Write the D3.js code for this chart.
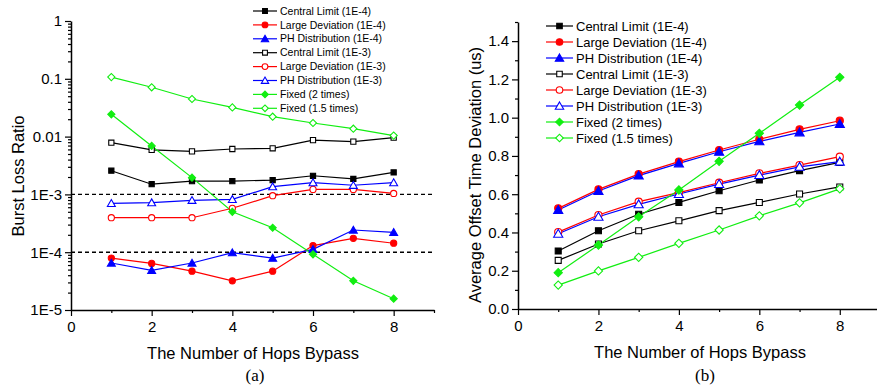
<!DOCTYPE html>
<html>
<head>
<meta charset="utf-8">
<script src="https://cdn.jsdelivr.net/npm/d3@7"></script>
<style>
  body { margin: 0; background: #fff; }
  text { font-family: "Liberation Sans", Arial, sans-serif; }
</style>
</head>
<body>
<svg id="chart" width="877" height="387"></svg>
<script>
// x values (hops bypass)
const hops = [1, 2, 3, 4, 5, 6, 7, 8];

// (a) burst loss ratio
const lossCL4 = [2.57e-3, 1.5e-3, 1.7e-3, 1.7e-3, 1.77e-3, 2.1e-3, 1.85e-3, 2.4e-3];
const lossLD4 = [7.9e-5, 6.4e-5, 4.7e-5, 3.2e-5, 4.7e-5, 1.3e-4, 1.74e-4, 1.43e-4];
const lossPH4 = [6.5e-5, 4.85e-5, 6.5e-5, 9.8e-5, 7.9e-5, 1.12e-4, 2.42e-4, 2.2e-4];
const lossCL3 = [7.85e-3, 5.9e-3, 5.56e-3, 6.1e-3, 6.27e-3, 8.7e-3, 8.2e-3, 9.6e-3];
const lossLD3 = [3.95e-4, 3.95e-4, 3.95e-4, 5.75e-4, 9.5e-4, 1.22e-3, 1.22e-3, 1.04e-3];
const lossPH3 = [7.0e-4, 7.2e-4, 7.9e-4, 8.2e-4, 1.36e-3, 1.6e-3, 1.44e-3, 1.6e-3];
const lossFix2 = [0.0243, 6.9e-3, 1.95e-3, 5.0e-4, 2.65e-4, 9.2e-5, 3.2e-5, 1.57e-5];
const lossFix15 = [0.107, 0.0713, 0.0447, 0.032, 0.0221, 0.0172, 0.0137, 0.0104];

// (b) average offset time deviation (us)
const devCL4 = [0.303, 0.409, 0.495, 0.557, 0.618, 0.674, 0.723, 0.766];
const devLD4 = [0.526, 0.625, 0.705, 0.770, 0.831, 0.887, 0.939, 0.984];
const devPH4 = [0.517, 0.617, 0.697, 0.761, 0.822, 0.876, 0.923, 0.967];
const devCL3 = [0.254, 0.340, 0.409, 0.461, 0.514, 0.557, 0.601, 0.638];
const devLD3 = [0.402, 0.491, 0.561, 0.608, 0.660, 0.709, 0.752, 0.796];
const devPH3 = [0.393, 0.482, 0.547, 0.601, 0.653, 0.700, 0.743, 0.770];
const devFix2 = [0.190, 0.334, 0.482, 0.622, 0.772, 0.918, 1.066, 1.211];
const devFix15 = [0.125, 0.199, 0.270, 0.343, 0.413, 0.487, 0.555, 0.628];

const seriesNames = ["Central Limit (1E-4)", "Large Deviation (1E-4)", "PH Distribution (1E-4)",
  "Central Limit (1E-3)", "Large Deviation (1E-3)", "PH Distribution (1E-3)",
  "Fixed (2 times)", "Fixed (1.5 times)"];
const seriesColors = ["#000000", "#ff0000", "#0000ff", "#000000", "#ff0000", "#0000ff", "#11ee11", "#11ee11"];
const seriesShapes = ["square", "circle", "triangle", "square", "circle", "triangle", "diamond", "diamond"];
const seriesFilled = [true, true, true, false, false, false, true, false];

const lossSeries = [lossCL4, lossLD4, lossPH4, lossCL3, lossLD3, lossPH3, lossFix2, lossFix15];
const devSeries = [devCL4, devLD4, devPH4, devCL3, devLD3, devPH3, devFix2, devFix15];

const logTicks = [1, 0.1, 0.01, 1e-3, 1e-4, 1e-5];
const logLabels = ["1", "0.1", "0.01", "1E-3", "1E-4", "1E-5"];
const dashedLevels = [1e-3, 1e-4];
const xTicks = [0, 2, 4, 6, 8];

let svg = d3.select("#chart");
svg.append("rect").attr("width", 877).attr("height", 387).attr("fill", "#fff");

function drawMarker(g, shape, filled, color, x, y, size) {
  let sym, tf = "translate(" + x + "," + y + ")";
  if (shape == "square") {
    sym = d3.symbol().type(d3.symbolSquare).size(size * 0.9);
  } else if (shape == "circle") {
    sym = d3.symbol().type(d3.symbolCircle).size(size);
  } else if (shape == "triangle") {
    sym = d3.symbol().type(d3.symbolTriangle).size(size * 0.9);
    tf = "translate(" + x + "," + (y + 0.8) + ")";
  } else {
    // diamond = square turned 45 degrees
    sym = d3.symbol().type(d3.symbolSquare).size(size * 0.85);
    tf += " rotate(45)";
  }
  g.append("path")
    .attr("d", sym())
    .attr("transform", tf)
    .attr("fill", filled ? color : "#fff")
    .attr("stroke", color)
    .attr("stroke-width", 1.1);
}

function drawSeries(g, x, y, series, mSize) {
  series.forEach(function(vals, i) {
    let line = d3.line()
      .x(function(d, k) { return x(hops[k]); })
      .y(function(d) { return y(d); });
    g.append("path")
      .attr("d", line(vals))
      .attr("fill", "none")
      .attr("stroke", seriesColors[i])
      .attr("stroke-width", 1.2);
  });
  series.forEach(function(vals, i) {
    vals.forEach(function(v, k) {
      drawMarker(g, seriesShapes[i], seriesFilled[i], seriesColors[i], x(hops[k]), y(v), mSize);
    });
  });
}

function drawLegend(g, x0, y0, step, fontSize, lineLen, mSize) {
  seriesNames.forEach(function(name, i) {
    let yy = y0 + i * step;
    g.append("line")
      .attr("x1", x0).attr("x2", x0 + lineLen)
      .attr("y1", yy).attr("y2", yy)
      .attr("stroke", seriesColors[i]).attr("stroke-width", 1.2);
    drawMarker(g, seriesShapes[i], seriesFilled[i], seriesColors[i], x0 + lineLen / 2, yy, mSize);
    g.append("text")
      .attr("x", x0 + lineLen + 3)
      .attr("y", yy)
      .attr("dy", "0.35em")
      .attr("font-size", fontSize)
      .attr("fill", "#000")
      .text(name);
  });
}

function styleAxis(g, fontSize) {
  g.select(".domain").attr("stroke", "#000").attr("stroke-width", 1.5);
  g.selectAll(".tick line").attr("stroke", "#000").attr("stroke-width", 1.2);
  g.selectAll(".tick text").attr("font-size", fontSize).attr("fill", "#000")
    .attr("font-family", "'Liberation Sans', Arial, sans-serif");
}

// ---------- (a) ----------
let xa = d3.scaleLinear().domain([0, 9]).range([71, 434]);
let ya = d3.scaleLog().domain([1e-5, 1]).range([310, 21]);

let ga = svg.append("g");

// minor ticks
let minorLog = ya.ticks().filter(function(t) { return logTicks.indexOf(t) < 0; });
ga.append("g").attr("transform", "translate(71,0)")
  .call(d3.axisLeft(ya).tickValues(minorLog).tickSize(3).tickFormat(""))
  .call(function(g) { styleAxis(g, 14); g.select(".domain").remove(); });
ga.append("g").attr("transform", "translate(0,310)")
  .call(d3.axisBottom(xa).tickValues([1, 3, 5, 7, 9]).tickSize(3).tickFormat(""))
  .call(function(g) { styleAxis(g, 14); g.select(".domain").remove(); });

// major axes
ga.append("g").attr("transform", "translate(71,0)")
  .call(d3.axisLeft(ya).tickValues(logTicks).tickSize(6).tickSizeOuter(0)
    .tickFormat(function(d, i) { return logLabels[i]; }))
  .call(function(g) { styleAxis(g, 15); });
ga.append("g").attr("transform", "translate(0,310)")
  .call(d3.axisBottom(xa).tickValues(xTicks).tickSize(6).tickSizeOuter(0).tickPadding(5))
  .call(function(g) { styleAxis(g, 15); });

// dashed reference lines
dashedLevels.forEach(function(v) {
  ga.append("line")
    .attr("x1", xa(0)).attr("x2", xa(9))
    .attr("y1", ya(v)).attr("y2", ya(v))
    .attr("stroke", "#000").attr("stroke-width", 1.4)
    .attr("stroke-dasharray", "4,3");
});

drawSeries(ga, xa, ya, lossSeries, 30);
drawLegend(ga, 253, 11, 13.9, 10.5, 24, 26);

ga.append("text")
  .attr("transform", "translate(24,176) rotate(-90)")
  .attr("text-anchor", "middle")
  .attr("font-size", 16.5)
  .text("Burst Loss Ratio");
ga.append("text")
  .attr("x", 253).attr("y", 359)
  .attr("text-anchor", "middle")
  .attr("font-size", 16.5)
  .text("The Number of Hops Bypass");
ga.append("text")
  .attr("x", 255).attr("y", 381)
  .attr("text-anchor", "middle")
  .attr("font-size", 17)
  .style("font-family", "'Liberation Serif', 'Times New Roman', serif")
  .text("(a)");

// ---------- (b) ----------
let xb = d3.scaleLinear().domain([0, 9]).range([518, 880]);
let yb = d3.scaleLinear().domain([0, 1.5]).range([309, 22]);

let gb = svg.append("g");

let minorLin = d3.range(0.1, 1.55, 0.2);
gb.append("g").attr("transform", "translate(518,0)")
  .call(d3.axisLeft(yb).tickValues(minorLin).tickSize(3).tickFormat(""))
  .call(function(g) { styleAxis(g, 14); g.select(".domain").remove(); });
gb.append("g").attr("transform", "translate(0,309)")
  .call(d3.axisBottom(xb).tickValues([1, 3, 5, 7]).tickSize(3).tickFormat(""))
  .call(function(g) { styleAxis(g, 14); g.select(".domain").remove(); });

gb.append("g").attr("transform", "translate(518,0)")
  .call(d3.axisLeft(yb).tickValues([0, 0.2, 0.4, 0.6, 0.8, 1.0, 1.2, 1.4]).tickSize(6)
    .tickSizeOuter(0).tickFormat(d3.format(".1f")))
  .call(function(g) { styleAxis(g, 15); });
gb.append("g").attr("transform", "translate(0,309)")
  .call(d3.axisBottom(xb).tickValues(xTicks).tickSize(6).tickSizeOuter(0).tickPadding(5))
  .call(function(g) { styleAxis(g, 15); });

drawSeries(gb, xb, yb, devSeries, 40);
drawLegend(gb, 546, 26, 16, 13, 27, 34);

gb.append("text")
  .attr("transform", "translate(481,175) rotate(-90)")
  .attr("text-anchor", "middle")
  .attr("font-size", 16.5)
  .text("Average Offset Time Deviation (us)");
gb.append("text")
  .attr("x", 700).attr("y", 358)
  .attr("text-anchor", "middle")
  .attr("font-size", 16.5)
  .text("The Number of Hops Bypass");
gb.append("text")
  .attr("x", 705).attr("y", 381)
  .attr("text-anchor", "middle")
  .attr("font-size", 17)
  .style("font-family", "'Liberation Serif', 'Times New Roman', serif")
  .text("(b)");
</script>
</body>
</html>
